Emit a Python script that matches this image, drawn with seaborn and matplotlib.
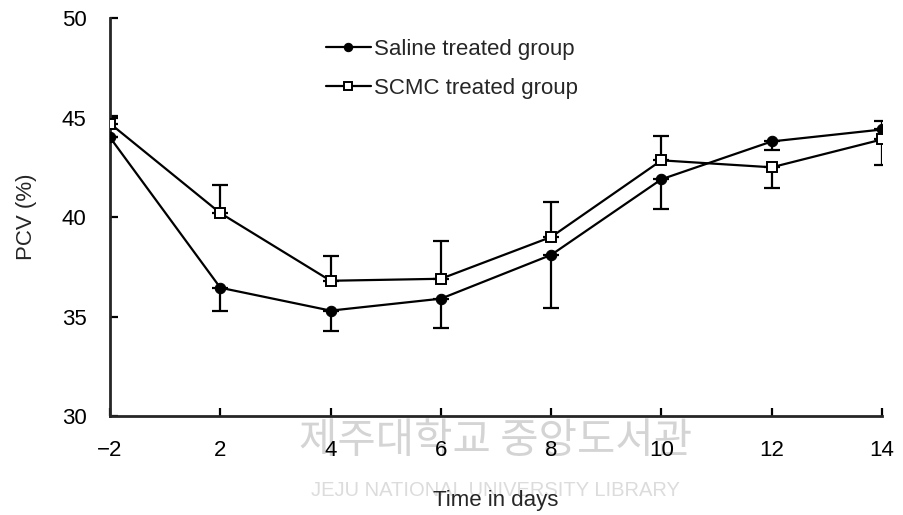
import pandas as pd
import seaborn as sns
import matplotlib.pyplot as plt

days = ["−2", "2", "4", "6", "8", "10", "12", "14"]
saline = [44.0, 36.45, 35.3, 35.9, 38.1, 41.9, 43.8, 44.4]
saline_lo = [0.0, 1.15, 1.0, 1.45, 2.65, 1.5, 0.45, 0.0]
saline_hi = [0.0, 0.0, 0.0, 0.0, 0.0, 0.0, 0.0, 0.45]
scmc = [44.7, 40.2, 36.8, 36.9, 39.0, 42.85, 42.5, 43.9]
scmc_lo = [0.0, 0.0, 0.0, 0.0, 0.0, 0.0, 1.05, 1.3]
scmc_hi = [0.4, 1.4, 1.25, 1.9, 1.75, 1.2, 0.0, 0.0]

sns.set_style("ticks")
plt.rcParams['font.family'] = ['Liberation Sans', 'DejaVu Sans']

pos = list(range(len(days)))
df = pd.DataFrame({"pos": pos * 2,
                   "pcv": saline + scmc,
                   "group": ["Saline treated group"] * len(days) + ["SCMC treated group"] * len(days)})

fig = plt.figure(figsize=(9.04, 5.15), dpi=100)
ax = fig.add_axes([0.1217, 0.192, 0.854, 0.773])
ax.set_zorder(1)
ax.patch.set_alpha(0)

# watermark (light, behind the axes)
fig.text(0.548, 0.142, "제주대학교 중앙도서관", fontsize=30, color="#d4d4d4",
         ha="center", va="center", family=["Noto Sans CJK KR", "DejaVu Sans"], zorder=0)
fig.text(0.548, 0.047, "JEJU NATIONAL UNIVERSITY LIBRARY", fontsize=14.5, color="#dcdcdc",
         ha="center", va="center", zorder=0)

ax.errorbar(pos, saline, yerr=[saline_lo, saline_hi], fmt="none", ecolor="black",
            elinewidth=1.6, capsize=5.5, capthick=1.6, zorder=2)
ax.errorbar(pos, scmc, yerr=[scmc_lo, scmc_hi], fmt="none", ecolor="black",
            elinewidth=1.6, capsize=5.5, capthick=1.6, zorder=2)

sns.lineplot(data=df, x="pos", y="pcv", hue="group", style="group",
             markers={"Saline treated group": "o", "SCMC treated group": "s"},
             dashes=False, palette=["black", "black"], linewidth=1.6,
             markersize=7.5, markeredgecolor="black", ax=ax, zorder=3)
for line in ax.lines:
    if line.get_marker() == "s":
        line.set_markerfacecolor("white")
        line.set_markersize(7)
        line.set_markeredgewidth(1.4)

ax.set_xlim(0, 7)
ax.set_ylim(30, 50)
ax.set_xticks(pos)
ax.set_xticklabels(days)
ax.set_yticks([30, 35, 40, 45, 50])
ax.tick_params(direction="in", length=6, width=1.6, labelsize=16, colors="black")
ax.tick_params(axis="x", pad=17)
ax.tick_params(axis="y", pad=17)
for s in ["left", "bottom"]:
    ax.spines[s].set_linewidth(2)
sns.despine(ax=ax)
ax.set_xlabel("Time in days", fontsize=16, labelpad=21)
ax.set_ylabel("PCV (%)", fontsize=16, labelpad=18)

handles, labels = ax.get_legend_handles_labels()
for h in handles:
    if h.get_marker() == "s":
        h.set_markerfacecolor("white")
    h.set_markersize(6)
ax.legend(handles, labels, loc="upper left", bbox_to_anchor=(0.254, 0.998), frameon=False,
          fontsize=16, handlelength=2.0, handletextpad=0.15, labelspacing=0.82)

fig.savefig("out.png", dpi=100)
